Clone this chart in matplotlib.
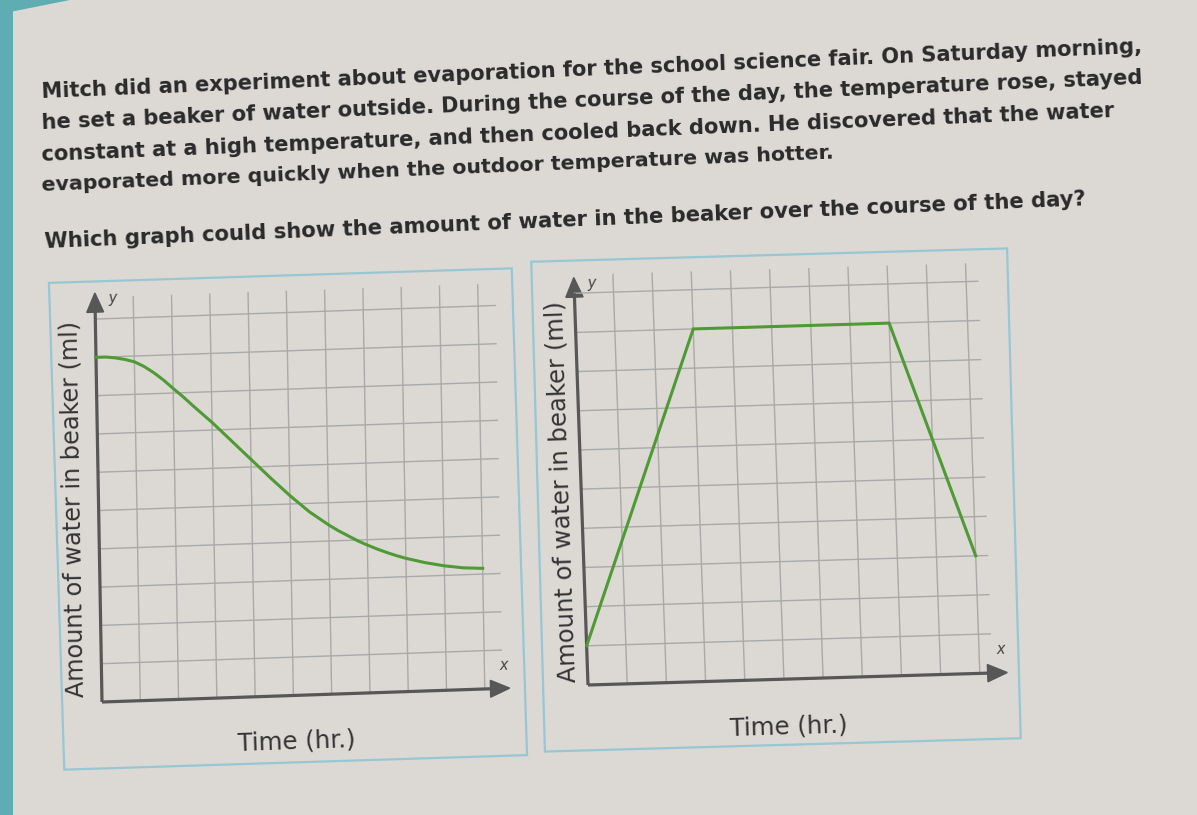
import math
import matplotlib
matplotlib.use("Agg")
import matplotlib.pyplot as plt
from matplotlib.transforms import Affine2D, IdentityTransform
from matplotlib.patches import Polygon, Rectangle

# ---------------- data ----------------
question_lines = [
    "Mitch did an experiment about evaporation for the school science fair. On Saturday morning,",
    "he set a beaker of water outside. During the course of the day, the temperature rose, stayed",
    "constant at a high temperature, and then cooled back down. He discovered that the water",
    "evaporated more quickly when the outdoor temperature was hotter.",
    "Which graph could show the amount of water in the beaker over the course of the day?",
]
x_label = "Time (hr.)"
y_label = "Amount of water in beaker (ml)"
grid_ticks = list(range(11))

# graph A (smooth decrease)
hours_a = [0, 0.25, 0.5, 0.75, 1, 1.25, 1.5, 1.75, 2, 2.25, 2.5, 2.75, 3, 3.5, 4, 4.5, 5,
           5.5, 6, 6.25, 6.5, 6.75, 7, 7.25, 7.5, 7.75, 8, 8.5, 9, 9.5, 10]
water_a = [9.0, 9.0, 8.97, 8.92, 8.85, 8.72, 8.55, 8.35, 8.12, 7.9, 7.66, 7.43, 7.2, 6.7, 6.2,
           5.7, 5.22, 4.78, 4.42, 4.26, 4.12, 3.98, 3.86, 3.75, 3.65, 3.56, 3.48, 3.35, 3.25,
           3.18, 3.15]
# graph B (piecewise)
hours_b = [0, 3, 8, 10]
water_b = [1, 9, 9, 3]

# ---------------- figure ----------------
W, H = 1197, 815
fig = plt.figure(figsize=(W / 100, H / 100), dpi=100)
BG = "#dcd9d5"
fig.patch.set_facecolor(BG)
renderer = fig.canvas.get_renderer()

# teal edges of the screen
fig.add_artist(Rectangle((0, 0), 13, H, transform=IdentityTransform(),
                         facecolor="#5fadb3", edgecolor="none"))
fig.add_artist(Polygon([(0, H), (70, H), (0, H - 14)], closed=True,
                       transform=IdentityTransform(), facecolor="#5fadb3", edgecolor="none"))

TEXT_ANG = 2.35


def fit_text(t, target):
    w = t.get_window_extent(renderer).width
    t.set_fontsize(t.get_fontsize() * target / w)


# question text: (left x, center y in image px, target width)
line_pos = [(42, 92, 1105), (42, 123, 1108), (42, 155, 1080), (42, 186, 792), (45, 242, 1044)]
for s, (x0, y0, wt) in zip(question_lines, line_pos):
    t = fig.text(x0 / W, 1 - y0 / H, s, fontsize=16, fontweight="bold", color="#2a2a2a",
                 family="DejaVu Sans", ha="left", va="center")
    fit_text(t, wt)
    t.set_rotation(TEXT_ANG)
    t.set_rotation_mode("anchor")


def panel_box(cx, cy, w, h, ang):
    rot = Affine2D().rotate_deg_around(cx, H - cy, ang)
    r = Rectangle((cx - w / 2, H - cy - h / 2), w, h, transform=IdentityTransform() + rot,
                  facecolor="none", edgecolor="#98c6d3", lw=1.6)
    fig.add_artist(r)


def skew(cx, cy, a, b):
    """Affine map in display px: x-direction tilted by a deg, y-direction by b deg, about (cx, cy)."""
    ar, br = math.radians(a), math.radians(b)
    m = [[math.cos(ar), -math.sin(br), 0], [math.sin(ar), math.cos(br), 0], [0, 0, 1]]
    return (Affine2D().translate(-cx, -cy) + Affine2D(matrix=__import__("numpy").array(m))
            + Affine2D().translate(cx, cy))


def chart(ox, oy, u, a, b, xs, ys, xtip, ytip, vtop, hright, ylab_pos, ylab_len, xlab_pos):
    # ox, oy: image px of data origin
    ax = fig.add_axes([(ox - 1 * u) / W, (H - oy - 1 * u) / H, 13 * u / W, 13 * u / H])
    ax.set_xlim(-1, 12)
    ax.set_ylim(-1, 12)
    ax.axis("off")
    ax.patch.set_alpha(0)
    T = ax.transData + skew(ox, H - oy, a, b)
    gc = "#a9a9a7"
    for v in grid_ticks[1:]:
        ax.plot([v, v], [0, vtop], color=gc, lw=1.0, transform=T, clip_on=False)
        ax.plot([0, hright], [v, v], color=gc, lw=1.0, transform=T, clip_on=False)
    ac = "#575757"
    ax.plot([0, xtip - 0.4], [0, 0], color=ac, lw=2.3, transform=T, clip_on=False,
            solid_capstyle="butt")
    ax.plot([0, 0], [0, ytip - 0.4], color=ac, lw=2.3, transform=T, clip_on=False,
            solid_capstyle="butt")
    ax.add_patch(Polygon([(xtip - 0.5, -0.22), (xtip - 0.5, 0.22), (xtip, 0)], closed=True,
                         transform=T, facecolor=ac, edgecolor=ac, clip_on=False))
    ax.add_patch(Polygon([(-0.22, ytip - 0.5), (0.22, ytip - 0.5), (0, ytip)], closed=True,
                         transform=T, facecolor=ac, edgecolor=ac, clip_on=False))
    ax.text(0.45, ytip - 0.15, "y", transform=T, style="italic", fontsize=10.5, color="#444444",
            ha="center", va="center", rotation=a)
    ax.text(xtip - 0.15, 0.6, "x", transform=T, style="italic", fontsize=10.5, color="#444444",
            ha="center", va="center", rotation=a)
    ax.plot(xs, ys, color="#4f9a34", lw=2.2, transform=T, clip_on=False,
            solid_joinstyle="miter")
    yl = fig.text(ylab_pos[0] / W, 1 - ylab_pos[1] / H, y_label, fontsize=14, color="#333333",
                  ha="center", va="center")
    fit_text(yl, ylab_len)
    yl.set_rotation(90 + b)
    xl = fig.text(xlab_pos[0] / W, 1 - xlab_pos[1] / H, x_label, fontsize=14, color="#333333",
                  ha="center", va="center")
    fit_text(xl, 118)
    xl.set_rotation(a)


panel_box(288, 519, 463, 487, 1.8)
panel_box(776, 500, 476, 490, 1.6)

chart(102, 702, 38.3, 1.95, 1.0, hours_a, water_a, 10.65, 10.68, 10.55, 10.45,
      (73, 509), 378, (297, 742))
chart(588, 685, 39.2, 1.7, 2.0, hours_b, water_b, 10.7, 10.4, 10.45, 10.3,
      (562, 492), 383, (789, 727))

fig.savefig("out.png", dpi=100, facecolor=BG)
